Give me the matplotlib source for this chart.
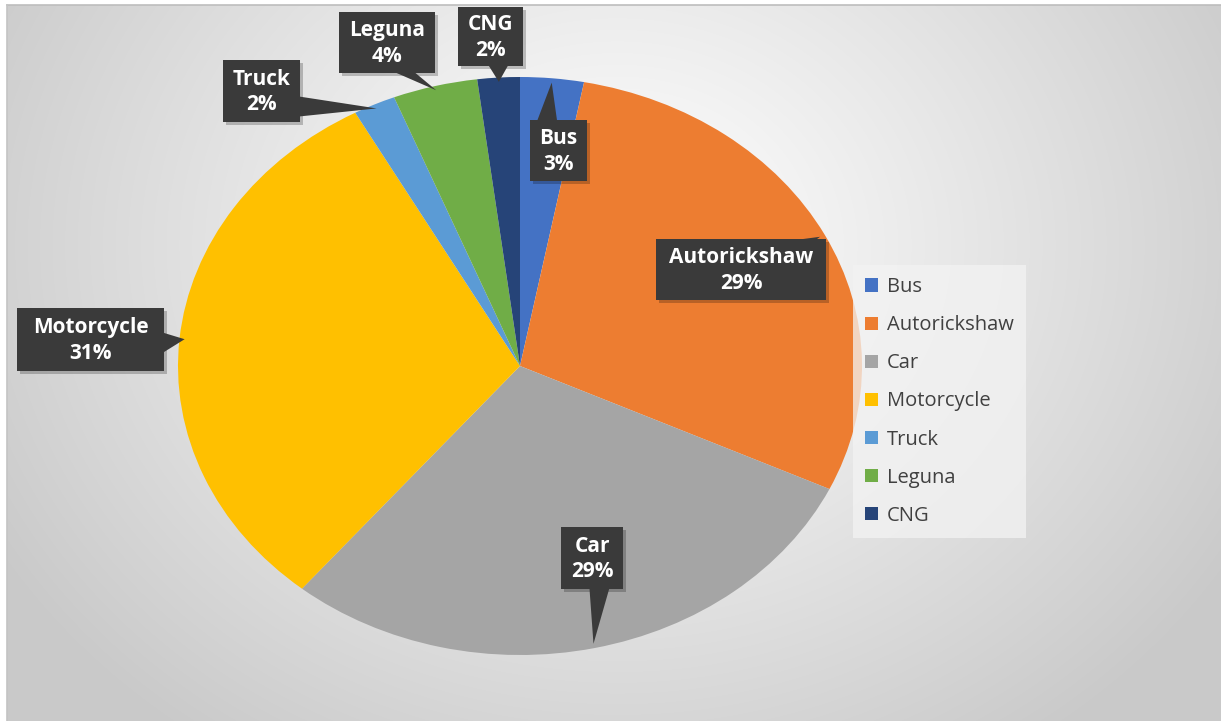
import numpy as np
import matplotlib
matplotlib.use("Agg")
import matplotlib.pyplot as plt
from matplotlib.patches import Polygon, Rectangle

# Vehicle share data
categories = ["Bus", "Autorickshaw", "Car", "Motorcycle", "Truck", "Leguna", "CNG"]
shares = [3, 29, 29, 31, 2, 4, 2]
colors = ["#4472C4", "#ED7D31", "#A5A5A5", "#FFC000", "#5B9BD5", "#70AD47", "#264478"]

W, H = 1221, 721
FONT = "Open Sans"

fig = plt.figure(figsize=(W / 100, H / 100), dpi=100)
fig.patch.set_facecolor("white")

# Radial-gradient backdrop inside a thin frame
bg = fig.add_axes([7 / W, 0, (W - 7) / W, (H - 5) / H], zorder=0)
yy, xx = np.mgrid[0:H - 5, 0:W - 7]
d = np.hypot((xx - 610) / 1.0, (yy - 240) / 0.85)
t = np.clip(d / 720, 0, 1) ** 1.1
shade = 1.0 - t * (1.0 - 0.79)
bg.imshow(np.dstack([shade] * 3), aspect="auto", extent=(0, 1, 0, 1), interpolation="bilinear")
bg.set_axis_off()

# Overlay in pixel coordinates for the frame and callouts
ov = fig.add_axes([0, 0, 1, 1], zorder=3)
ov.set_xlim(0, W)
ov.set_ylim(H, 0)
ov.set_axis_off()
ov.plot([7, W], [5, 5], color="#bdbdbd", lw=1.2)
ov.plot([7, 7], [5, H], color="#c4c4c4", lw=1.2)

# Elliptical pie
cx, cy, rx, ry = 520, 366, 342, 289
pie_ax = fig.add_axes([(cx - rx) / W, (H - cy - ry) / H, 2 * rx / W, 2 * ry / H], zorder=2)
wedges, _ = pie_ax.pie(shares, colors=colors, startangle=90, counterclock=False,
                       radius=1.0, wedgeprops=dict(linewidth=0))
pie_ax.set_xlim(-1, 1)
pie_ax.set_ylim(-1, 1)
pie_ax.set_aspect("auto")
pie_ax.set_axis_off()

# Callout boxes: (left, top, right, bottom), pointer side, base fraction along side
boxes = {
    "Bus": ((530, 120, 587, 181), "top", 0.30),
    "Autorickshaw": ((656, 239, 826, 300), "top", 0.88),
    "Car": ((561, 527, 623, 589), "bottom", 0.62),
    "Motorcycle": ((17, 308, 164, 371), "right", 0.55),
    "Truck": ((223, 60, 300, 122), "right", 0.75),
    "Leguna": ((339, 12, 435, 73), "bottom", 0.68),
    "CNG": ((458, 7, 523, 66), "bottom", 0.62),
}

cum = np.cumsum([0] + shares)
total = float(sum(shares))
for i, name in enumerate(categories):
    mid = (cum[i] + shares[i] / 2) / total * 2 * np.pi
    tip = (cx + 0.985 * rx * np.sin(mid), cy - 0.985 * ry * np.cos(mid))
    (l, tp, r, b), side, frac = boxes[name]
    half = 10
    if side == "top":
        bx = l + frac * (r - l)
        base = [(bx - half, tp + 1), (bx + half, tp + 1)]
    elif side == "bottom":
        bx = l + frac * (r - l)
        base = [(bx - half, b - 1), (bx + half, b - 1)]
    else:
        by = tp + frac * (b - tp)
        base = [(r - 1, by - half), (r - 1, by + half)]
    dark = "#3a3a3a"
    # soft shadow
    ov.add_patch(Rectangle((l + 3, tp + 3), r - l, b - tp, facecolor="black", alpha=0.22,
                           linewidth=0, zorder=4))
    ov.add_patch(Polygon([base[0], tip, base[1]], closed=True, facecolor=dark,
                         edgecolor="none", zorder=5))
    ov.add_patch(Rectangle((l, tp), r - l, b - tp, facecolor=dark, linewidth=0, zorder=5))
    ov.text((l + r) / 2, (tp + b) / 2 + 1, f"{name}\n{shares[i]}%", color="white",
            fontsize=15, fontweight="bold", family=FONT, ha="center", va="center",
            linespacing=1.28, zorder=6)

# Legend
leg = fig.legend(wedges, categories, loc="upper left",
                 bbox_to_anchor=(853 / W, 1 - 265 / H), frameon=True, fancybox=False,
                 prop={"family": FONT, "size": 14.5}, labelcolor="#404040",
                 handlelength=0.62, handleheight=0.62, handletextpad=0.45,
                 labelspacing=0.9, borderpad=0.6, borderaxespad=0)
leg.get_frame().set_facecolor("#f3f3f3")
leg.get_frame().set_alpha(0.75)
leg.get_frame().set_linewidth(0)
leg.set_zorder(5)

fig.savefig("out.png", dpi=100)
